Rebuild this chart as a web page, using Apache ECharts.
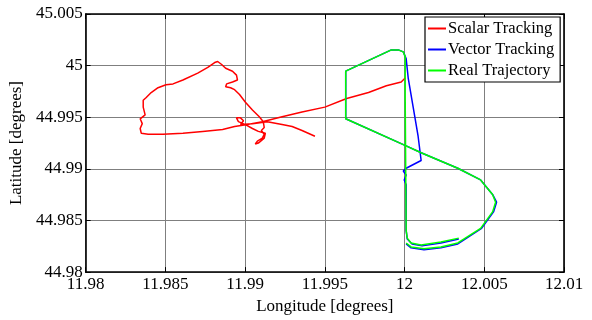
<!DOCTYPE html>
<html><head><meta charset="utf-8">
<script src="https://cdn.jsdelivr.net/npm/echarts@6/dist/echarts.min.js"></script>
<style>html,body{margin:0;padding:0;background:#fff}#c{width:592px;height:320px}</style>
</head><body><div id="c"></div>
<script>
const xTicks = [11.98, 11.985, 11.99, 11.995, 12, 12.005, 12.01];
const yTicks = [44.98, 44.985, 44.99, 44.995, 45, 45.005];
const seriesNames = ['Scalar Tracking', 'Vector Tracking', 'Real Trajectory'];

const scalarLon = [12.00004,11.99979,11.99886,11.99774,11.99637,11.99500,11.99357,11.99232,11.99108,11.99015,11.98934,11.98859,11.98734,11.98610,11.98485,11.98392,11.98349,11.98342,11.98355,11.98342,11.98373,11.98361,11.98361,11.98380,11.98411,11.98454,11.98504,11.98548,11.98610,11.98703,11.98766,11.98809,11.98828,11.98853,11.98878,11.98921,11.98946,11.98952,11.98921,11.98884,11.98878,11.98909,11.98934,11.98965,11.99002,11.99046,11.99089,11.99114,11.99120,11.99102,11.99120,11.99108,11.99077,11.99064,11.99083,11.99120,11.99127,11.99083,11.99046,11.99002,11.98958,11.98946,11.98971,11.98990,11.98971,11.99046,11.99139,11.99232,11.99295,11.99357,11.99438];
const scalarLat = [44.99880,44.99842,44.99805,44.99739,44.99682,44.99598,44.99551,44.99504,44.99457,44.99429,44.99410,44.99382,44.99363,44.99344,44.99335,44.99335,44.99344,44.99391,44.99438,44.99485,44.99523,44.99598,44.99664,44.99692,44.99739,44.99786,44.99814,44.99823,44.99861,44.99927,44.99983,45.00030,45.00040,45.00011,44.99974,44.99946,44.99908,44.99861,44.99842,44.99823,44.99795,44.99786,44.99767,44.99720,44.99645,44.99570,44.99504,44.99457,44.99400,44.99372,44.99335,44.99297,44.99269,44.99241,44.99250,44.99297,44.99344,44.99363,44.99391,44.99429,44.99457,44.99494,44.99494,44.99466,44.99429,44.99438,44.99457,44.99429,44.99410,44.99372,44.99316];

const vectorLon = [12.00340,12.00228,12.00110,12.00047,12.00017,12.00010,12.00010,11.99998,12.00010,11.99992,12.00004,12.00010,12.00104,12.00085,12.00054,12.00023,12.00010,11.99992,11.99961,11.99917,11.99631,11.99631,12.00010,12.00104,12.00334,12.00477,12.00552,12.00577,12.00558,12.00483,12.00334,12.00228,12.00122,12.00041,12.00010];
const vectorLat = [44.98320,44.98282,44.98254,44.98273,44.98320,44.98404,44.98846,44.98893,44.98940,44.98978,44.98996,44.99006,44.99081,44.99316,44.99598,44.99880,45.00068,45.00133,45.00152,45.00152,44.99946,44.99485,44.99222,44.99156,44.99006,44.98893,44.98752,44.98677,44.98583,44.98423,44.98273,44.98235,44.98216,44.98235,44.98273];

const realLon = [12.00340,12.00228,12.00104,12.00041,12.00017,12.00010,12.00004,12.00004,11.99992,11.99961,11.99917,11.99631,11.99631,12.00010,12.00104,12.00334,12.00477,12.00552,12.00571,12.00552,12.00477,12.00334,12.00228,12.00122,12.00041,12.00010];
const realLat = [44.98329,44.98291,44.98263,44.98282,44.98329,44.98404,44.99692,45.00087,45.00133,45.00152,45.00152,44.99946,44.99485,44.99222,44.99156,44.99006,44.98893,44.98752,44.98677,44.98583,44.98423,44.98282,44.98244,44.98226,44.98244,44.98282];

const zip = (a, b) => a.map((v, i) => [v, b[i]]);
const fmt = v => String(+v.toFixed(3));
const font = '"Liberation Serif", "Times New Roman", serif';

const axisCommon = {
  type: 'value',
  axisLine: { show: true, lineStyle: { color: '#000', width: 1.6 } },
  axisTick: { show: true, inside: true, length: 5, lineStyle: { color: '#000' } },
  splitLine: { show: false },
  axisLabel: { show: false }
};

const chart = echarts.init(document.getElementById('c'), null, { renderer: 'canvas' });
chart.setOption({
  animation: false,
  backgroundColor: '#fff',
  textStyle: { fontFamily: font },
  grid: { left: 82, right: 28, top: 14, bottom: 40, show: false },
  legend: {
    data: seriesNames,
    orient: 'vertical',
    left: 425, top: 17,
    padding: [3, 6, 3, 3],
    itemGap: 4,
    icon: 'rect',
    itemWidth: 18, itemHeight: 2,
    backgroundColor: '#fff',
    borderColor: '#000', borderWidth: 1.2,
    textStyle: { fontFamily: font, fontSize: 16.5, color: '#000', lineHeight: 17, padding: [0, 0, 0, -3] }
  },
  xAxis: [
    Object.assign({}, axisCommon, {
      min: 11.98, max: 12.01, interval: 0.005, position: 'bottom',
      name: 'Longitude [degrees]', nameLocation: 'middle', nameGap: 15,
      nameTextStyle: { fontFamily: font, fontSize: 17, color: '#000', verticalAlign: 'top' },
      axisLabel: { show: true, margin: 4, fontFamily: font, fontSize: 17, color: '#000', formatter: fmt },
      splitLine: { show: true, lineStyle: { color: '#7f7f7f', width: 1 } }
    }),
    Object.assign({}, axisCommon, { min: 11.98, max: 12.01, interval: 0.005, position: 'top' })
  ],
  yAxis: [
    Object.assign({}, axisCommon, {
      min: 44.98, max: 45.005, interval: 0.005, position: 'left',
      name: 'Latitude [degrees]', nameLocation: 'middle', nameGap: 52, nameRotate: 90,
      nameTextStyle: { fontFamily: font, fontSize: 17, color: '#000' },
      axisLabel: { show: true, margin: 3, fontFamily: font, fontSize: 17, color: '#000', formatter: fmt },
      splitLine: { show: true, lineStyle: { color: '#7f7f7f', width: 1 } }
    }),
    Object.assign({}, axisCommon, { min: 44.98, max: 45.005, interval: 0.005, position: 'right' })
  ],
  series: [
    { name: seriesNames[0], type: 'line', data: zip(scalarLon, scalarLat), symbol: 'none',
      lineStyle: { color: '#ff0000', width: 1.5 }, itemStyle: { color: '#ff0000' }, z: 3 },
    { name: seriesNames[1], type: 'line', data: zip(vectorLon, vectorLat), symbol: 'none',
      lineStyle: { color: '#0000ff', width: 1.5 }, itemStyle: { color: '#0000ff' }, z: 4 },
    { name: seriesNames[2], type: 'line', data: zip(realLon, realLat), symbol: 'none',
      lineStyle: { color: '#00ff00', width: 1.5 }, itemStyle: { color: '#00ff00' }, z: 5 }
  ]
});
</script></body></html>
